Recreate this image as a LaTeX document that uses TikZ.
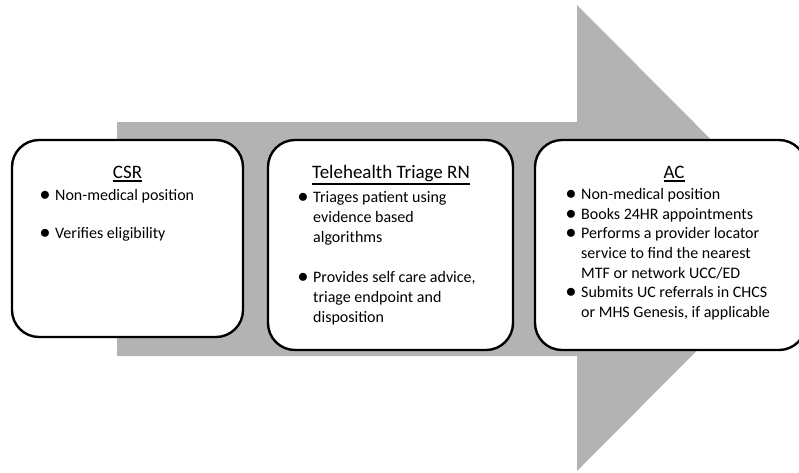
\documentclass[tikz,border=0pt]{standalone}
\usepackage{fontspec}
\setmainfont{Carlito}
\definecolor{arrowgray}{RGB}{179,179,179}
\tikzset{
  stage/.style={draw=black, line width=2.4pt, fill=white, rounded corners=27pt},
  ttl/.style={anchor=base, inner sep=0pt, font=\fontsize{19pt}{22pt}\selectfont},
  ln/.style={anchor=base west, inner sep=0pt, font=\fontsize{16pt}{19.5pt}\selectfont},
}
\newcommand{\bul}{\llap{\scalebox{1.2}{$\bullet$}\hspace{5pt}}}
\newcommand{\titl}[1]{\vtop{\hbox{#1}\kern1.6pt\hrule height 1.3pt}}
\begin{document}
\begin{tikzpicture}[x=1pt,y=-1pt]
\useasboundingbox (0,0) rectangle (799,472);
\clip (0,0) rectangle (799,472);
% big arrow
\fill[arrowgray] (117,122) -- (577,122) -- (577,5) -- (809,238) -- (577,471) -- (577,356) -- (117,356) -- cycle;
% boxes
\draw[stage] (12,140) rectangle (243,337);
\draw[stage] (268,140) rectangle (513,350);
\draw[stage] (535,140) rectangle (806,350);
% CSR
\node[ttl] (ct) at (127.5,178.5) {\titl{CSR}};
\node[ln] (c1) at (55,200) {\bul Non-medical position};
\node[ln] (c2) at (55,238) {\bul Verifies eligibility};
% Telehealth
\node[ttl] (tt) at (391,178.5) {\titl{Telehealth Triage RN}};
\node[ln] (t1) at (313,202) {\bul Triages patient using};
\node[ln] (t2) at (313,222) {evidence based};
\node[ln] (t3) at (313,242) {algorithms};
\node[ln] (t4) at (313,282) {\bul Provides self care advice,};
\node[ln] (t5) at (313,302) {triage endpoint and};
\node[ln] (t6) at (313,322) {disposition};
% AC
\node[ttl] (at) at (674,178.5) {\titl{AC}};
\node[ln] (a1) at (581,199) {\bul Non-medical position};
\node[ln] (a2) at (581,219) {\bul Books 24HR appointments};
\node[ln] (a3) at (581,238.5) {\bul Performs a provider locator};
\node[ln] (a4) at (581,258) {service to find the nearest};
\node[ln] (a5) at (581,278) {MTF or network UCC/ED};
\node[ln] (a6) at (581,297.5) {\bul Submits UC referrals in CHCS};
\node[ln] (a7) at (581,317) {or MHS Genesis, if applicable};
\end{tikzpicture}
\end{document}
